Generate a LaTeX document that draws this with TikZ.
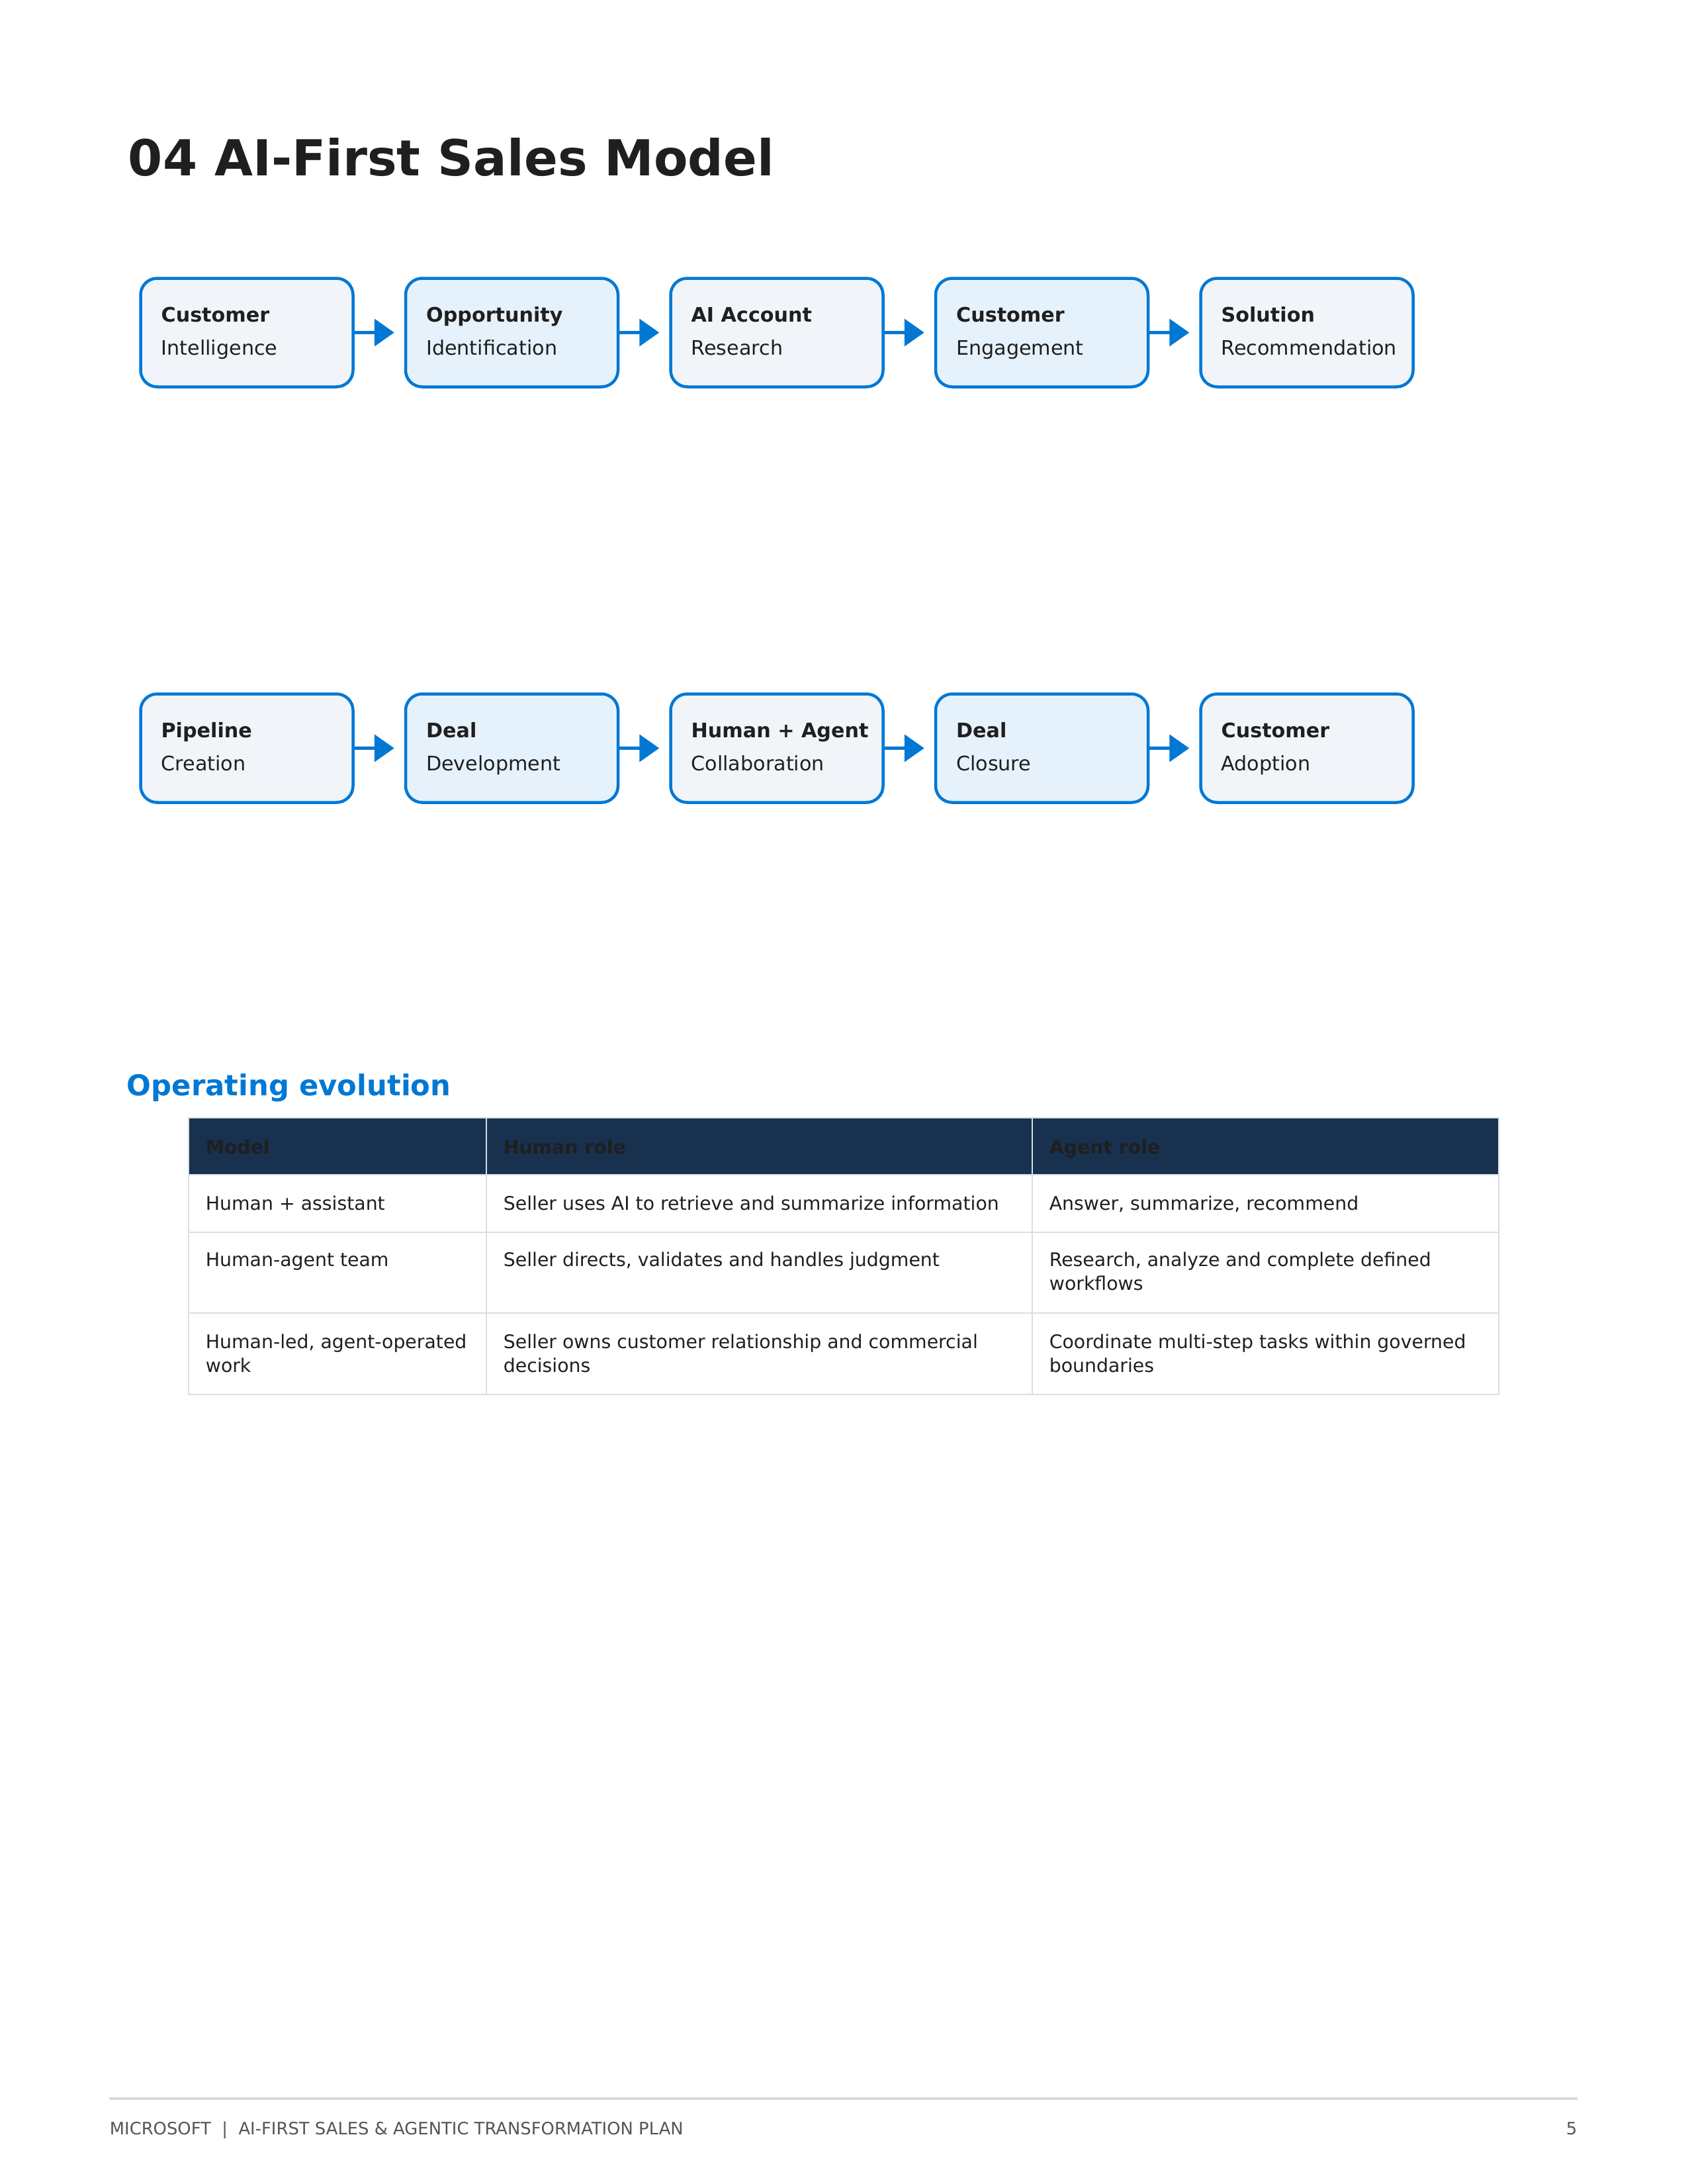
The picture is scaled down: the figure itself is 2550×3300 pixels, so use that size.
\documentclass[tikz,border=0pt]{standalone}
\usepackage{fontspec}
\setmainfont{DejaVu Sans}
\usetikzlibrary{arrows.meta,calc}
\definecolor{msblue}{HTML}{0078D4}
\definecolor{fillgray}{HTML}{F1F5F9}
\definecolor{fillblue}{HTML}{E6F2FB}
\definecolor{navy}{HTML}{18314F}
\definecolor{inkdark}{HTML}{1F1F1F}
\definecolor{gridgray}{HTML}{D8DEE5}
\definecolor{footgray}{HTML}{555555}
\definecolor{rulegray}{HTML}{D4DAE1}
\begin{document}
\begin{tikzpicture}[x=0.24pt,y=-0.24pt,
  stepbox/.style={draw=msblue,line width=1.08pt,rounded corners=6pt,minimum width=77.04pt,minimum height=39.36pt,inner sep=0pt},
  graybox/.style={stepbox,fill=fillgray},
  bluebox/.style={stepbox,fill=fillblue},
  boxhead/.style={anchor=base west,inner sep=0pt,text=inkdark,font=\fontsize{7.25}{9}\selectfont\bfseries},
  boxsub/.style={anchor=base west,inner sep=0pt,text=inkdark,font=\fontsize{7.25}{9}\selectfont},
  flow/.style={draw=msblue,line width=1.2pt,-{Triangle[length=7.2pt,width=9.8pt]}},
  cell/.style={anchor=base west,inner sep=0pt,text=inkdark,align=left,font=\fontsize{6.8}{8.76}\selectfont},
  headcell/.style={anchor=base west,inner sep=0pt,text=inkdark,font=\fontsize{6.8}{8.76}\selectfont\bfseries},
  grid/.style={draw=gridgray,line width=0.7pt},
  foot/.style={inner sep=0pt,text=footgray,font=\fontsize{6.2}{7.5}\selectfont}
]
\useasboundingbox (0,0) rectangle (2550,3300);
\fill[white] (0,0) rectangle (2550,3300);

% title
\node[anchor=base west,inner sep=0pt,text=inkdark,font=\fontsize{18}{22}\selectfont\bfseries] (title) at (193,265) {04 AI-First Sales Model};

% row 1
\node[graybox] (a1) at (373,502.5) {};
\node[bluebox] (a2) at (773.5,502.5) {};
\node[graybox] (a3) at (1174,502.5) {};
\node[bluebox] (a4) at (1574.5,502.5) {};
\node[graybox] (a5) at (1975,502.5) {};
% row 2
\node[graybox] (c1) at (373,1130.5) {};
\node[bluebox] (c2) at (773.5,1130.5) {};
\node[graybox] (c3) at (1174,1130.5) {};
\node[bluebox] (c4) at (1574.5,1130.5) {};
\node[graybox] (c5) at (1975,1130.5) {};

\foreach \b/\h/\s in {a1/Customer/Intelligence, a2/Opportunity/Identification, a3/AI Account/Research, a4/Customer/Engagement, a5/Solution/Recommendation, c1/Pipeline/Creation, c2/Deal/Development, c3/Human + Agent/Collaboration, c4/Deal/Closure, c5/Customer/Adoption}{
  \node[boxhead] (\b h) at ($(\b.north west)+(32.5,68.5)$) {\h};
  \node[boxsub] (\b s) at ($(\b.north west)+(32.5,118.5)$) {\s};
}

\foreach \p/\q in {a1/a2,a2/a3,a3/a4,a4/a5,c1/c2,c2/c3,c3/c4,c4/c5}{
  \draw[flow] (\p.east) -- ($(\q.west)+(-15,0)$);
}

% section heading
\node[anchor=base west,inner sep=0pt,text=msblue,font=\fontsize{10.4}{12.5}\selectfont\bfseries] (sec) at (191,1655) {Operating evolution};

% table
\coordinate (tl) at (285,1689);
\coordinate (br) at (2265,2107);
\fill[navy] (285,1689) rectangle (2265,1775);
\draw[grid] (285,1775) -- (2265,1775);
\draw[grid] (285,1862) -- (2265,1862);
\draw[grid] (285,1984) -- (2265,1984);
\draw[grid] (735,1689) -- (735,2107);
\draw[grid] (1560,1689) -- (1560,2107);
\draw[grid] (tl) rectangle (br);

\node[headcell] (h1) at (310,1743) {Model};
\node[headcell] (h2) at (760,1743) {Human role};
\node[headcell] (h3) at (1585,1743) {Agent role};

\node[cell] (r11) at (310,1828) {Human + assistant};
\node[cell] (r12) at (760,1828) {Seller uses AI to retrieve and summarize information};
\node[cell] (r13) at (1585,1828) {Answer, summarize, recommend};

\node[cell] (r21) at (310,1913) {Human-agent team};
\node[cell] (r22) at (760,1913) {Seller directs, validates and handles judgment};
\node[cell] (r23) at (1585,1949.5) {Research, analyze and complete defined\\workflows};

\node[cell] (r31) at (310,2073.5) {Human-led, agent-operated\\work};
\node[cell] (r32) at (760,2073.5) {Seller owns customer relationship and commercial\\decisions};
\node[cell] (r33) at (1585,2073.5) {Coordinate multi-step tasks within governed\\boundaries};

% footer
\coordinate (fl) at (165,3171);
\coordinate (fr) at (2384,3171);
\draw[draw=rulegray,line width=1pt] (fl) -- (fr);
\node[foot,anchor=base west] (ftxt) at (165,3225) {MICROSOFT\ \ |\ \ AI-FIRST SALES \& AGENTIC TRANSFORMATION PLAN};
\node[foot,anchor=base east] (fpg) at (2384,3225) {5};
\end{tikzpicture}
\end{document}
